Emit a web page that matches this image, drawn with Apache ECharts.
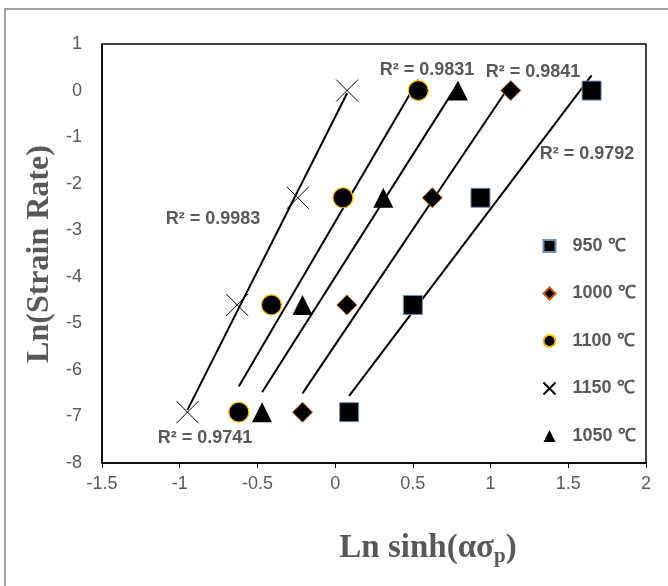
<!DOCTYPE html>
<html>
<head>
<meta charset="utf-8">
<script src="https://cdn.jsdelivr.net/npm/echarts@6/dist/echarts.min.js"></script>
<style>
html,body{margin:0;padding:0;background:#fff;}
#chart{width:668px;height:586px;}
</style>
</head>
<body>
<div id="chart"></div>
<script>
// y values: ln(strain rate) for 0.001, 0.01, 0.1, 1 s^-1
const lnStrainRate = [-6.908, -4.605, -2.303, 0];
const x950  = [0.09, 0.50, 0.935, 1.65];
const x1000 = [-0.21, 0.075, 0.625, 1.13];
const x1100 = [-0.62, -0.41, 0.05, 0.535];
const x1150 = [-0.95, -0.63, -0.24, 0.077];
const x1050 = [-0.47, -0.21, 0.31, 0.79];
const seriesNames = ['950 ℃', '1000 ℃', '1100 ℃', '1150 ℃', '1050 ℃'];
const r2Labels = ['R² = 0.9983', 'R² = 0.9741', 'R² = 0.9831', 'R² = 0.9841', 'R² = 0.9792'];

const xs = [x950, x1000, x1100, x1150, x1050];

function pairs(x) { return x.map((v, i) => [v, lnStrainRate[i]]); }
function fit(x) {
  const n = x.length;
  const mx = x.reduce((a, b) => a + b, 0) / n;
  const my = lnStrainRate.reduce((a, b) => a + b, 0) / n;
  let sxy = 0, sxx = 0;
  for (let i = 0; i < n; i++) { sxy += (x[i] - mx) * (lnStrainRate[i] - my); sxx += (x[i] - mx) * (x[i] - mx); }
  const b = sxy / sxx, a = my - b * mx;
  const x0 = Math.min(...x), x1 = Math.max(...x);
  return [[x0, a + b * x0], [x1, a + b * x1]];
}

const styles = [
  { symbol: 'rect', symbolSize: 19, itemStyle: { color: '#000', borderColor: '#6f8fb5', borderWidth: 1, opacity: 1 } },
  { symbol: 'diamond', symbolSize: 20, itemStyle: { color: '#000', borderColor: '#c55a11', borderWidth: 1, opacity: 1 } },
  { symbol: 'circle', symbolSize: 20, itemStyle: { color: '#000', borderColor: '#ffc000', borderWidth: 1.2, opacity: 1 } },
  { symbol: 'path://M0 0L10 10M10 0L0 10', symbolSize: 22, itemStyle: { color: 'none', borderColor: '#000', borderWidth: 1, opacity: 1 } },
  { symbol: 'triangle', symbolSize: 20, itemStyle: { color: '#000', opacity: 1 } }
];

const series = [];
xs.forEach((x, i) => {
  series.push({
    name: 'fit' + i, type: 'line', data: fit(x), symbol: 'none', silent: true,
    lineStyle: { color: '#000', width: 2 }, z: 2
  });
});
xs.forEach((x, i) => {
  series.push(Object.assign({ name: seriesNames[i], type: 'scatter', data: pairs(x), z: 5 }, styles[i]));
});

const labelFont = { fontFamily: '"Liberation Sans", Arial, sans-serif', fontSize: 18, fontWeight: 'bold', fill: '#595959' };
const r2Pos = [[213, 219], [205, 438], [427, 70], [533, 72], [587, 154]];

const chart = echarts.init(document.getElementById('chart'), null, { renderer: 'canvas' });
chart.setOption({
  backgroundColor: '#fff',
  animation: false,
  grid: { left: 102, right: 22, top: 44, bottom: 123, show: true, borderColor: '#000', borderWidth: 1.5, backgroundColor: 'transparent' },
  xAxis: {
    type: 'value', min: -1.5, max: 2, interval: 0.5,
    axisLine: { onZero: false, lineStyle: { color: '#000', width: 1.5 } },
    axisTick: { show: true, length: 5, lineStyle: { color: '#000' } },
    axisLabel: { color: '#595959', fontSize: 18, margin: 12, fontFamily: '"Liberation Sans", Arial, sans-serif' },
    splitLine: { show: false }
  },
  yAxis: {
    type: 'value', min: -8, max: 1, interval: 1,
    axisLine: { show: true, onZero: false, lineStyle: { color: '#000', width: 1.5 } },
    axisTick: { show: false },
    axisLabel: { color: '#595959', fontSize: 18, margin: 20, fontFamily: '"Liberation Sans", Arial, sans-serif' },
    splitLine: { show: false }
  },
  legend: {
    data: seriesNames, orient: 'vertical', left: 536, top: 232,
    itemWidth: 12, itemHeight: 12, itemGap: 29.5,
    textStyle: { color: '#595959', fontSize: 18, fontWeight: 'bold', lineHeight: 18, padding: [0, 0, 0, 12], fontFamily: '"Liberation Sans", Arial, sans-serif' }
  },
  graphic: [
    { type: 'rect', shape: { x: 5, y: 9, width: 700, height: 700 }, style: { fill: 'none', stroke: '#a0a0a0', lineWidth: 2 }, silent: true, z: -10 },
    ...r2Labels.map((t, i) => ({ type: 'text', x: r2Pos[i][0], y: r2Pos[i][1], style: Object.assign({ text: t, align: 'center', verticalAlign: 'middle' }, labelFont), z: 10 })),
    { type: 'text', x: 40, y: 254, rotation: Math.PI / 2,
      style: { text: 'Ln(Strain Rate)', align: 'center', verticalAlign: 'middle', fontFamily: '"Liberation Serif", "Times New Roman", serif', fontSize: 32, fontWeight: 'bold', fill: '#595959' } },
    { type: 'text', x: 428, y: 548,
      style: { text: '{a|Ln sinh(ασ}{s|p}{a|)}', align: 'center', verticalAlign: 'middle',
        rich: {
          a: { fontFamily: '"Liberation Serif", "Times New Roman", serif', fontSize: 33, fontWeight: 'bold', fill: '#595959', lineHeight: 38 },
          s: { fontFamily: '"Liberation Serif", "Times New Roman", serif', fontSize: 21, fontWeight: 'bold', fill: '#595959', lineHeight: 21, verticalAlign: 'bottom' }
        } } }
  ],
  series: series
});
</script>
</body>
</html>
